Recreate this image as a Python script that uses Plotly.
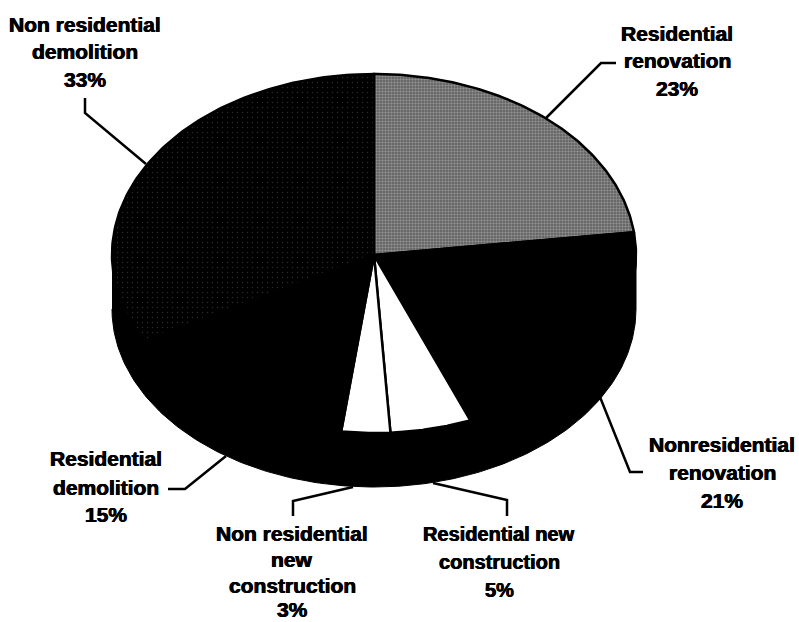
import numpy as np
import plotly.graph_objects as go

categories = ["Residential renovation", "Nonresidential renovation", "Residential new construction",
              "Non residential new construction", "Residential demolition", "Non residential demolition"]
values = [23, 21, 5, 3, 15, 33]

# one entry per slice: label lines with their centre and line positions (page pixels)
label_lines = [
    ["Residential", "renovation", "23%"],
    ["Nonresidential", "renovation", "21%"],
    ["Residential new", "construction", "5%"],
    ["Non residential", "new", "construction", "3%"],
    ["Residential", "demolition", "15%"],
    ["Non residential", "demolition", "33%"],
]
label_x = [677, 722, 499, 292, 106, 85]
label_y = [
    [33, 60, 88],
    [444, 472, 500],
    [534, 562, 590],
    [533, 559, 585, 609],
    [458, 487, 514],
    [24, 51, 79],
]
label_size = [21, 21, 20, 21, 21, 21]
leader_x = [[546, 601, 616], [600, 630, 643], [433, 507, 507], [353, 293, 293], [226, 185, 168], [146, 85, 85]]
leader_y = [[118, 63, 63], [397, 472, 472], [483, 500, 516], [487, 501, 516], [456, 489, 489], [164, 113, 98]]

fills = ["#808080", "#000000", "#ffffff", "#ffffff", "#000000", "#0a0a0a"]
cx, cy, rx, ry_top, ry_bot, depth = 374, 255, 262, 181, 178, 54


def rim(theta, drop=0):
    theta = np.asarray(theta, dtype=float)
    c = np.cos(theta)
    return cx + rx * np.sin(theta), cy + drop - np.where(c > 0, ry_top, ry_bot) * c


fig = go.Figure()

# pie wall: silhouette of the top face and its lowered rim
t_up = np.linspace(-np.pi / 2, np.pi / 2, 181)
t_dn = np.linspace(np.pi / 2, 3 * np.pi / 2, 181)
xu, yu = rim(t_up)
xd, yd = rim(t_dn, depth)
fig.add_trace(go.Scatter(x=np.r_[xu, xd], y=np.r_[yu, yd], mode="lines", fill="toself",
                         fillcolor="#000000", line=dict(color="#000000", width=1), hoverinfo="skip"))

# top-face slices, from the values
edges = np.r_[0, np.cumsum(values)] / sum(values) * 2 * np.pi
for i, name in enumerate(categories):
    t = np.linspace(edges[i], edges[i + 1], 120)
    x, y = rim(t)
    px = np.r_[cx, x, cx]
    py = np.r_[cy, y, cy]
    kw = {}
    if i == 0:
        kw["fillpattern"] = dict(shape=".", size=3, solidity=0.5, fgcolor="#c4c4c4", bgcolor="#5a5a5a")
    elif i == 5:
        kw["fillpattern"] = dict(shape=".", size=5, solidity=0.06, fgcolor="#5a5a5a", bgcolor="#000000")
    fig.add_trace(go.Scatter(x=px, y=py, mode="lines", fill="toself", fillcolor=fills[i], name=name,
                             line=dict(color="#000000", width=2.5), hoverinfo="name", **kw))

# leader lines
for lx, ly in zip(leader_x, leader_y):
    fig.add_trace(go.Scatter(x=lx, y=ly, mode="lines", line=dict(color="#000000", width=2.5), hoverinfo="skip"))

# labels
for lines, x0, ys, fs in zip(label_lines, label_x, label_y, label_size):
    for text, y0 in zip(lines, ys):
        fig.add_annotation(x=x0, y=y0, text=text, showarrow=False, xanchor="center", yanchor="middle",
                           font=dict(family="Liberation Sans", size=fs, color="#000000", weight="bold",
                                     shadow="0.4px 0 0 #000, -0.4px 0 0 #000"))

fig.update_layout(
    width=799, height=622, margin=dict(l=0, r=0, t=0, b=0),
    paper_bgcolor="#ffffff", plot_bgcolor="#ffffff", showlegend=False,
    xaxis=dict(range=[0, 799], visible=False, fixedrange=True),
    yaxis=dict(range=[622, 0], visible=False, fixedrange=True),
)
fig.write_html("out.html", post_script="document.body.style.margin='0';", config={"displayModeBar": False})
